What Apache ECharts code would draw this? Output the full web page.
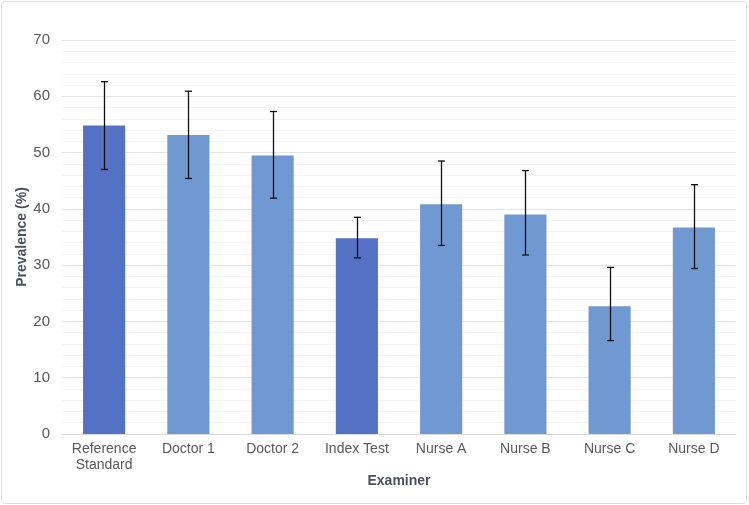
<!DOCTYPE html>
<html>
<head>
<meta charset="utf-8">
<script src="https://cdn.jsdelivr.net/npm/echarts@6/dist/echarts.min.js"></script>
<style>html,body{margin:0;padding:0;background:#fff}#c{width:749px;height:505px}</style>
</head>
<body>
<div id="c"></div>
<script>
var categories = ['Reference\nStandard', 'Doctor 1', 'Doctor 2', 'Index Test', 'Nurse A', 'Nurse B', 'Nurse C', 'Nurse D'];
var prevalence = [54.8, 53.1, 49.5, 34.8, 40.8, 39.0, 22.7, 36.7];
var ciLow = [47.0, 45.4, 41.9, 31.3, 33.5, 31.8, 16.6, 29.4];
var ciHigh = [62.6, 60.9, 57.3, 38.5, 48.5, 46.8, 29.6, 44.3];
var highlight = [true, false, false, true, false, false, false, false];
var yTicks = [0, 10, 20, 30, 40, 50, 60, 70];

var darkBlue = '#5571C3';
var lightBlue = '#7099D2';
var textColor = '#595959';
var titleColor = '#4a505e';
var font = '"Liberation Sans", Arial, Helvetica, sans-serif';

var chart = echarts.init(document.getElementById('c'), null, {renderer: 'canvas'});
chart.setOption({
  animation: false,
  graphic: [{
    type: 'rect', shape: {x: 1.5, y: 1.5, width: 745, height: 502, r: 3},
    style: {fill: 'none', stroke: '#dcdfe4', lineWidth: 1}, silent: true, z: -1
  }],
  grid: {left: 62, right: 13, top: 40, bottom: 71},
  xAxis: {
    type: 'category',
    data: categories,
    name: 'Examiner',
    nameLocation: 'middle',
    nameGap: 40,
    nameMoveOverlap: false,
    nameTextStyle: {fontFamily: font, fontWeight: 'bold', fontSize: 14, color: titleColor},
    axisLine: {lineStyle: {color: '#d9d9d9', width: 1}},
    axisTick: {show: false},
    axisLabel: {fontFamily: font, fontSize: 14, color: textColor, margin: 7, lineHeight: 16, interval: 0}
  },
  yAxis: {
    type: 'value',
    min: yTicks[0], max: yTicks[yTicks.length - 1], interval: 10,
    name: 'Prevalence (%)',
    nameLocation: 'middle',
    nameGap: 33,
    nameMoveOverlap: false,
    nameTextStyle: {fontFamily: font, fontWeight: 'bold', fontSize: 14, color: titleColor},
    axisLine: {show: false},
    axisTick: {show: false},
    axisLabel: {fontFamily: font, fontSize: 15, color: textColor, margin: 12},
    splitLine: {lineStyle: {color: '#e3e3e3', width: 1}},
    minorTick: {show: false, splitNumber: 5},
    minorSplitLine: {show: true, lineStyle: {color: '#f3f3f3', width: 1}}
  },
  series: [{
    type: 'bar',
    barWidth: '50%',
    data: prevalence.map(function (v, i) {
      return {value: v, itemStyle: {color: highlight[i] ? darkBlue : lightBlue}};
    })
  }, {
    type: 'custom',
    z: 10,
    data: prevalence.map(function (v, i) { return [i, ciLow[i], ciHigh[i]]; }),
    renderItem: function (params, api) {
      var lo = api.coord([api.value(0), api.value(1)]);
      var hi = api.coord([api.value(0), api.value(2)]);
      var x = Math.round(lo[0]) + 0.5;
      var hw = 3.5;
      var st = {stroke: '#111', lineWidth: 1.3};
      return {
        type: 'group',
        children: [
          {type: 'line', shape: {x1: x, y1: hi[1], x2: x, y2: lo[1]}, style: st},
          {type: 'line', shape: {x1: x - hw, y1: hi[1], x2: x + hw, y2: hi[1]}, style: st},
          {type: 'line', shape: {x1: x - hw, y1: lo[1], x2: x + hw, y2: lo[1]}, style: st}
        ]
      };
    }
  }]
});
</script>
</body>
</html>
